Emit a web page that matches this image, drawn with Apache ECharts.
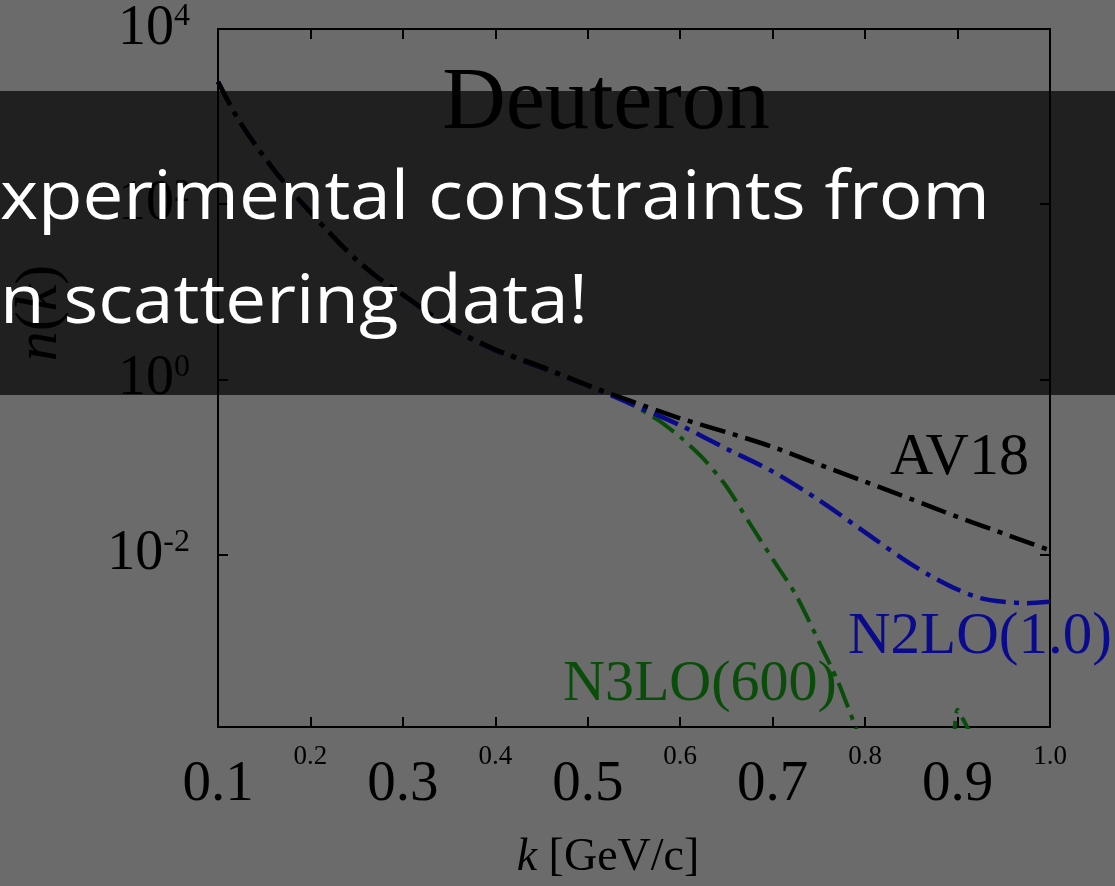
<!DOCTYPE html>
<html>
<head>
<meta charset="utf-8">
<script src="https://cdn.jsdelivr.net/npm/echarts@6/dist/echarts.min.js"></script>
<style>
  html, body { margin: 0; padding: 0; background: #6b6b6b; }
  #chart { width: 1115px; height: 886px; }
</style>
</head>
<body>
<div id="chart"></div>
<script>
// Deuteron momentum distribution n(k) for three interactions
const kAV18 = [0.10, 0.12, 0.14, 0.16, 0.18, 0.20, 0.225, 0.25, 0.275, 0.30, 0.35, 0.40, 0.45, 0.50,
               0.55, 0.60, 0.65, 0.70, 0.75, 0.80, 0.85, 0.90, 0.95, 1.00];
const nAV18 = [2500, 1000, 480, 250, 138, 81, 42, 23, 14, 9.3, 4.0, 2.2, 1.4, 0.86,
               0.55, 0.36, 0.25, 0.17, 0.107, 0.068, 0.043, 0.027, 0.0174, 0.0112];

const kN2LO = [0.10, 0.12, 0.14, 0.16, 0.18, 0.20, 0.225, 0.25, 0.275, 0.30, 0.35, 0.40, 0.45, 0.50,
               0.55, 0.60, 0.65, 0.70, 0.75, 0.80, 0.84, 0.87, 0.90, 0.925, 0.95, 0.975, 1.00];
const nN2LO = [2500, 1010, 485, 252, 139, 81, 42, 23, 14, 9.2, 3.9, 2.15, 1.36, 0.85,
               0.51, 0.30, 0.162, 0.089, 0.042, 0.018, 0.0091, 0.0058, 0.0040, 0.0032, 0.0029, 0.0028, 0.0029];

const kN3LO = [0.10, 0.12, 0.14, 0.16, 0.18, 0.20, 0.225, 0.25, 0.275, 0.30, 0.35, 0.40, 0.45, 0.50,
               0.525, 0.55, 0.575, 0.60, 0.625, 0.65, 0.675, 0.70, 0.725, 0.75, 0.77, 0.78, 0.79, 0.80,
               0.83, 0.86, 0.88, 0.893, 0.90, 0.91, 0.92, 0.95, 1.00];
const nN3LO = [2500, 1000, 482, 251, 139, 82, 43, 23.5, 14.2, 9.4, 4.05, 2.2, 1.4, 0.85,
               0.68, 0.50, 0.35, 0.22, 0.125, 0.060, 0.023, 0.0089, 0.0035, 0.00102, 0.00037, 0.0002, 0.000105, 0.00005,
               0.00001, 0.000004, 0.000003, 0.000025, 0.00017, 0.00011, 0.00007, 0.00002, 0.000005];

// Axis ticks and labels
const xTicks = [0.2, 0.3, 0.4, 0.5, 0.6, 0.7, 0.8, 0.9];
const xLabelsLarge = [0.1, 0.3, 0.5, 0.7, 0.9];
const xLabelsSmall = [0.2, 0.4, 0.6, 0.8, 1.0];
const yTicks = [1e-2, 1, 1e2];
const yLabels = [1e-2, 1, 1e2, 1e4];

const kMin = 0.1, kMax = 1.0;
const nMin = 1.08e-4, nMax = 1e4;

const serif = '"Liberation Serif", "DejaVu Serif", serif';
const blue = '#0a0a8c';
const green = '#0a4d0a';
const dashDot = [26, 8, 5, 8];

const pairs = (ks, ns) => ks.map((k, i) => [k, ns[i]]);

const frameLine = { lineStyle: { color: '#000', width: 2 } };
const innerTick = (vals) => ({ show: true, inside: true, length: 10, customValues: vals,
                               lineStyle: { color: '#000', width: 2 } });

const chart = echarts.init(document.getElementById('chart'));
chart.setOption({
  backgroundColor: '#6b6b6b',
  animation: false,
  grid: { left: 218, right: 65, top: 29, bottom: 156 },
  xAxis: [
    {
      type: 'value', min: kMin, max: kMax, position: 'bottom',
      axisLine: frameLine, axisTick: innerTick(xTicks), splitLine: { show: false },
      axisLabel: {
        customValues: xLabelsLarge, margin: 30, color: '#000',
        fontFamily: serif, fontSize: 57, lineHeight: 57,
        formatter: v => v.toFixed(1)
      },
      name: '{i|k} [GeV/c]', nameLocation: 'middle', nameGap: 108,
      nameTextStyle: {
        fontFamily: serif, fontSize: 46, lineHeight: 46, color: '#000',
        padding: [0, 52, 0, 0],
        rich: { i: { fontFamily: serif, fontSize: 46, fontStyle: 'italic', color: '#000' } }
      }
    },
    {
      type: 'value', min: kMin, max: kMax, position: 'bottom',
      axisLine: { show: false }, axisTick: { show: false }, splitLine: { show: false },
      axisLabel: {
        customValues: xLabelsSmall, margin: 16, color: '#000',
        fontFamily: serif, fontSize: 27, lineHeight: 27,
        formatter: v => v.toFixed(1)
      }
    },
    {
      type: 'value', min: kMin, max: kMax, position: 'top',
      axisLine: frameLine, axisTick: innerTick(xTicks), splitLine: { show: false },
      axisLabel: { show: false }
    }
  ],
  yAxis: [
    {
      type: 'log', logBase: 10, min: nMin, max: nMax, position: 'left',
      axisLine: frameLine, axisTick: innerTick(yTicks), splitLine: { show: false },
      minorTick: { show: false },
      axisLabel: {
        customValues: yLabels, margin: 28, color: '#000',
        formatter: v => '{b|10}{s|' + Math.round(Math.log10(v)) + '}',
        rich: {
          b: { fontFamily: serif, fontSize: 56, lineHeight: 56, color: '#000', verticalAlign: 'bottom' },
          s: { fontFamily: serif, fontSize: 32, lineHeight: 38, color: '#000', verticalAlign: 'top' }
        }
      }
    },
    {
      type: 'log', logBase: 10, min: nMin, max: nMax, position: 'right',
      axisLine: frameLine, axisTick: innerTick(yTicks), splitLine: { show: false },
      minorTick: { show: false },
      axisLabel: { show: false }
    }
  ],
  series: [
    {
      name: 'N3LO(600)', type: 'line', data: pairs(kN3LO, nN3LO),
      showSymbol: false, smooth: 0.25, clip: true,
      lineStyle: { color: green, width: 4, type: dashDot }
    },
    {
      name: 'N2LO(1.0)', type: 'line', data: pairs(kN2LO, nN2LO),
      showSymbol: false, smooth: 0.25, clip: true,
      lineStyle: { color: blue, width: 4.5, type: dashDot }
    },
    {
      name: 'AV18', type: 'line', data: pairs(kAV18, nAV18),
      showSymbol: false, smooth: 0.25, clip: true,
      lineStyle: { color: '#000', width: 4.5, type: dashDot }
    }
  ],
  graphic: [
    { type: 'text', z: 5, x: 606, y: 105,
      style: { text: 'Deuteron', font: '88px ' + serif, fill: '#000', align: 'center', verticalAlign: 'middle' } },
    { type: 'text', z: 5, x: 890, y: 458,
      style: { text: 'AV18', font: '60px ' + serif, fill: '#000', align: 'left', verticalAlign: 'middle' } },
    { type: 'text', z: 5, x: 848, y: 637,
      style: { text: 'N2LO(1.0)', font: '59px ' + serif, fill: blue, align: 'left', verticalAlign: 'middle' } },
    { type: 'text', z: 5, x: 563, y: 685,
      style: { text: 'N3LO(600)', font: '58px ' + serif, fill: green, align: 'left', verticalAlign: 'middle' } },
    { type: 'text', z: 5, x: 40, y: 313, rotation: Math.PI / 2,
      style: {
        text: '{i|n}({i|k})', fill: '#000', align: 'center', verticalAlign: 'middle',
        font: '60px ' + serif,
        rich: { i: { fontFamily: serif, fontSize: 60, fontStyle: 'italic', fill: '#000' } }
      } },
    // dimming band with the slide caption
    { type: 'rect', z: 100, shape: { x: 0, y: 91, width: 1115, height: 304 },
      style: { fill: 'rgba(0,0,0,0.7)' } },
    { type: 'text', z: 101, x: 0, y: 200, scaleX: 1.07,
      style: { text: 'xperimental constraints from', font: '68px "Open Sans"', fill: '#ffffff',
               align: 'left', verticalAlign: 'middle' } },
    { type: 'text', z: 101, x: 0, y: 304, scaleX: 1.07,
      style: { text: 'n scattering data!', font: '68px "Open Sans"', fill: '#ffffff',
               align: 'left', verticalAlign: 'middle' } }
  ]
});
</script>
</body>
</html>
